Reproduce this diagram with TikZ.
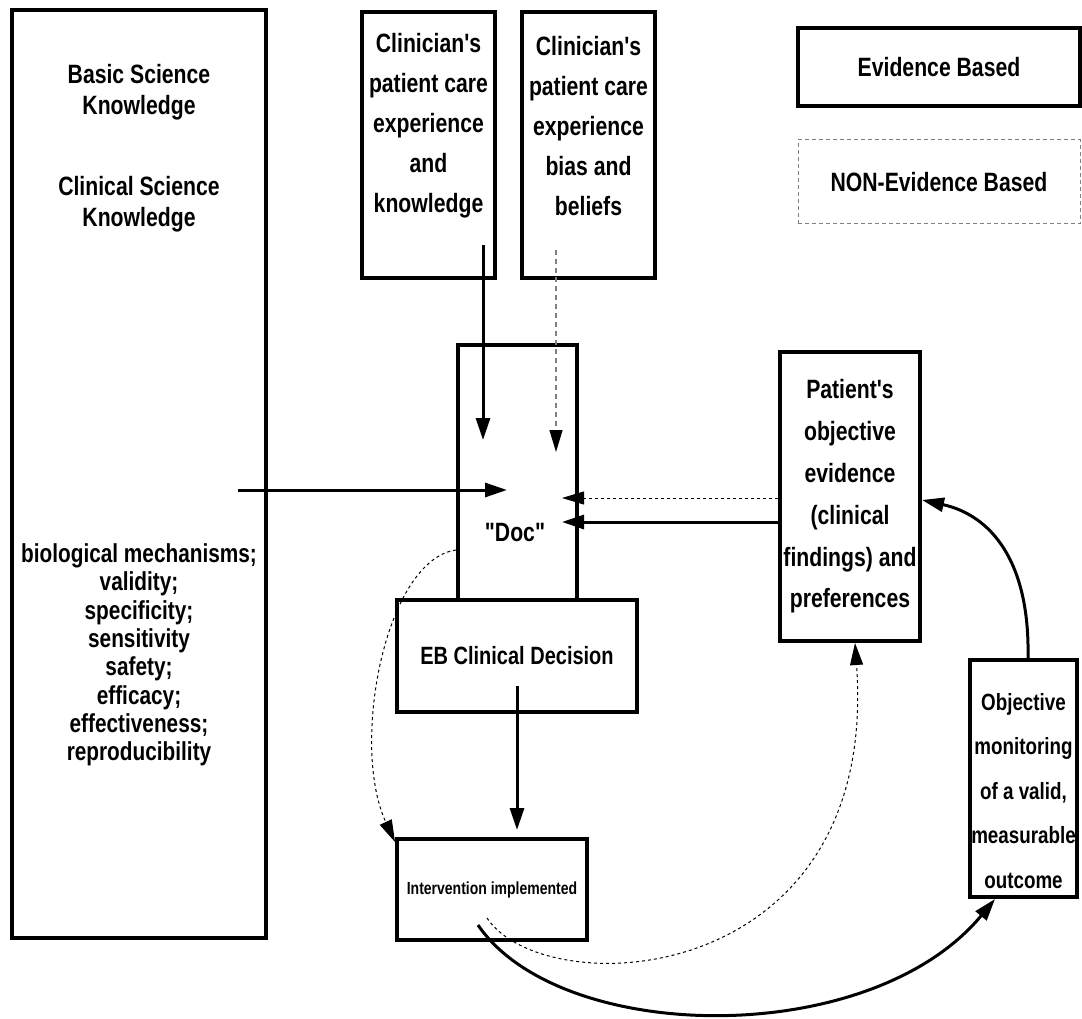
\documentclass[tikz,border=0pt]{standalone}
\usepackage{fontspec}
\setmainfont{Liberation Sans}[FakeStretch=0.8,Ligatures=TeXOff]
\usetikzlibrary{arrows.meta}

\begin{document}
\begin{tikzpicture}[x=1pt,y=-1pt,
        box/.style={draw,line width=4pt,inner sep=0pt},
        txt/.style={align=center,inner sep=0pt,font=\fontsize{26.5}{40}\selectfont\bfseries},
        arr/.style={line width=3pt,-{Triangle[length=22pt,width=14pt]}},
        dots/.style={line width=1pt,dash pattern=on 3pt off 3pt,-{Triangle[length=22pt,width=13pt]}},
        greydash/.style={gray,line width=1.2pt,dash pattern=on 5pt off 4pt,-{Triangle[length=22pt,width=13pt,black]}}]

    \useasboundingbox (0,0) rectangle (1082,1019);

    % knowledge column
    \node[box,minimum width=254pt,minimum height=928pt] (sci) at (139,474) {};
    \node[txt,font=\fontsize{26.5}{31}\selectfont\bfseries] (basic) at (139,92) {Basic Science\\Knowledge};
    \node[txt,font=\fontsize{26.5}{31}\selectfont\bfseries] (clin) at (139,204) {Clinical Science\\Knowledge};
    \node[txt,font=\fontsize{26}{28.3}\selectfont\bfseries] (crit) at (139,655)
        {biological mechanisms;\\validity;\\specificity;\\sensitivity\\safety;\\efficacy;\\effectiveness;\\reproducibility};

    % clinician boxes
    \node[box,minimum width=133pt,minimum height=266pt] (exp) at (428.5,145) {};
    \node[txt] (exptxt) at (428.5,126) {Clinician's\\patient care\\experience\\and\\knowledge};
    \node[box,minimum width=133pt,minimum height=266pt] (bias) at (588.5,145) {};
    \node[txt] (biastxt) at (588.5,126) {Clinician's\\patient care\\experience\\bias and\\beliefs};

    % legend
    \node[box,minimum width=282pt,minimum height=78pt,txt] (evid) at (939,67) {Evidence Based};
    \node[draw=gray,line width=1pt,dash pattern=on 4pt off 3pt,minimum width=282pt,minimum height=84pt,txt] (nonevid) at (939,182) {NON-Evidence Based};

    % doc and decision
    \node[box,minimum width=119pt,minimum height=255pt] (doc) at (517.5,472.5) {};
    \node[txt] (doctxt) at (515,533) {"Doc"};
    \node[box,fill=white,minimum width=240pt,minimum height=112pt,txt,font=\fontsize{25}{30}\selectfont\bfseries] (dec) at (517,656) {EB Clinical Decision};
    \node[box,minimum width=190pt,minimum height=101pt,txt,font=\fontsize{17.5}{20}\selectfont\bfseries] (intv) at (492,889.5) {Intervention implemented};

    % patient side
    \node[box,minimum width=140pt,minimum height=289pt,txt,font=\fontsize{26.5}{41.8}\selectfont\bfseries] (pat) at (850,496.5)
        {Patient's\\objective\\evidence\\(clinical\\findings) and\\preferences};
    \node[box,minimum width=107pt,minimum height=237pt] (mon) at (1023.5,778.5) {};
    \node[txt,font=\fontsize{23.5}{44.5}\selectfont\bfseries] (montxt) at (1023.5,791) {Objective\\monitoring\\of a valid,\\measurable\\outcome};

    % connector ends
    \coordinate (expout) at (483,245);
    \coordinate (docin1) at (483,440);
    \coordinate (biasout) at (556,250);
    \coordinate (docin2) at (556,452);
    \coordinate (sciout) at (238,490);
    \coordinate (docin3) at (507,490);
    \coordinate (docin4) at (562,498);
    \coordinate (docin5) at (562,522);
    \coordinate (decout) at (517,686);
    \coordinate (intvin) at (517,830);
    \coordinate (intvout) at (487,918);
    \coordinate (intvout2) at (478,925);
    \coordinate (monin) at (995,899);

    \draw[arr] (expout) -- (docin1);
    \draw[greydash] (biasout) -- (docin2);
    \draw[arr] (sciout) -- (docin3);
    \draw[dots] (pat.west |- docin4) -- (docin4);
    \draw[arr] (pat.west |- docin5) -- (docin5);
    \draw[dots] (doc.west |- 0,550) .. controls (385,560) and (350,745) .. ([yshift=-5pt]intv.north west);
    \draw[arr] (decout) -- (intvin);
    \draw[dots] (intvout) .. controls (545,1005) and (880,990) .. (pat.south -| 855,0);
    \draw[arr] (intvout2) .. controls (560,1045) and (870,1050) .. (monin);
    \draw[arr] (mon.north -| 1028,0) .. controls (1030,560) and (990,515) .. (pat.east |- 0,500);
\end{tikzpicture}
\end{document}
